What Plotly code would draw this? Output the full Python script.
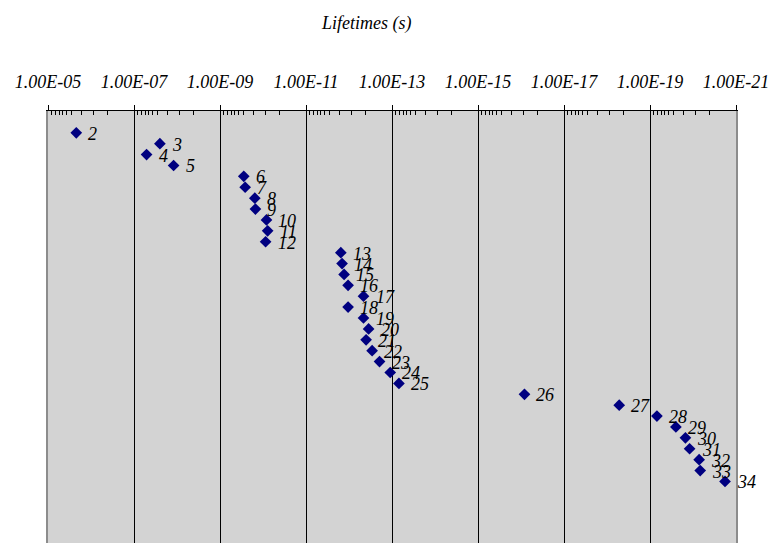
import math
import plotly.graph_objects as go

# Data
labels = [str(n) for n in range(2, 35)]
positions = list(range(2, 35))
lifetimes = [
    2.2e-6, 2.5e-8, 5.1e-8, 1.2e-8,
    2.8e-10, 2.6e-10, 1.55e-10, 1.5e-10, 8.3e-11, 7.8e-11, 8.7e-11,
    1.55e-12, 1.45e-12, 1.3e-12, 1.05e-12, 4.6e-13, 1.05e-12, 4.6e-13,
    3.5e-13, 4.0e-13, 2.9e-13, 1.95e-13, 1.1e-13, 6.9e-14,
    8.3e-17, 5.2e-19, 6.9e-20, 2.5e-20, 1.5e-20, 1.2e-20, 7.2e-21, 6.8e-21, 1.8e-21,
]
tick_exponents = [-5, -7, -9, -11, -13, -15, -17, -19, -21]
tick_vals = [10.0 ** e for e in tick_exponents]
tick_text = ["1.00E-%02d" % (-e) for e in tick_exponents]
# minor tick offsets (decades past each major tick), as drawn in the reference
minor_offsets = [0.086, 0.172, 0.256, 0.342, 0.428, 0.558, 0.777, 1.047, 1.395]
minor_vals = [10.0 ** (e - d) for e in tick_exponents[:-1] for d in minor_offsets]

FONT = "Liberation Serif"

W, H = 771, 543
L, T, R = 48, 111, 35
PW, PH = W - L - R, H - T

fig = go.Figure()
fig.add_trace(go.Scatter(
    x=lifetimes, y=positions, mode="markers",
    marker=dict(symbol="diamond", size=9, color="#000080"),
    hoverinfo="x+y", showlegend=False,
))

annotations = []
for lab, xv, yv in zip(labels, lifetimes, positions):
    annotations.append(dict(
        x=math.log10(xv), y=yv, xref="x", yref="y", text="<i>%s</i>" % lab,
        showarrow=False, xanchor="left", yanchor="middle", xshift=10, yshift=-1,
        font=dict(family=FONT, size=18, color="#000000"),
    ))
annotations.append(dict(
    xref="paper", yref="paper",
    x=(366 - L) / PW, y=1 + (T - 23) / PH,
    text="<i>Lifetimes (s)</i>",
    showarrow=False, xanchor="center", yanchor="middle",
    font=dict(family=FONT, size=18, color="#000000"),
))

fig.update_layout(
    width=W, height=H,
    margin=dict(l=L, r=R, t=T, b=0, pad=0),
    paper_bgcolor="white", plot_bgcolor="#d3d3d3",
    font=dict(family=FONT, size=18, color="#000000"),
    annotations=annotations,
)

fig.update_xaxes(
    type="log", range=[-5, -21], side="top", automargin=False,
    tickvals=tick_vals, ticktext=tick_text,
    tickfont=dict(family=FONT, size=18, color="#000000", style="italic"),
    ticks="outside", ticklen=5, tickcolor="#000000", tickwidth=1,
    ticklabelstandoff=10, ticklabeloverflow="allow",
    showgrid=True, gridcolor="#000000", gridwidth=1,
    showline=True, linecolor="#000000", linewidth=1,
    minor=dict(tickvals=minor_vals, ticks="inside", ticklen=4, tickcolor="#000000",
               tickwidth=1, showgrid=False),
    zeroline=False,
)
fig.update_yaxes(
    range=[39.65, 0], automargin=False,
    showticklabels=False, ticks="", showgrid=False, zeroline=False,
    showline=True, linecolor="#8c8c8c", linewidth=2, mirror=True,
)

fig.write_html(
    "out.html",
    config={"displayModeBar": False},
    post_script="document.body.style.margin='0';document.body.style.overflow='hidden';",
)
